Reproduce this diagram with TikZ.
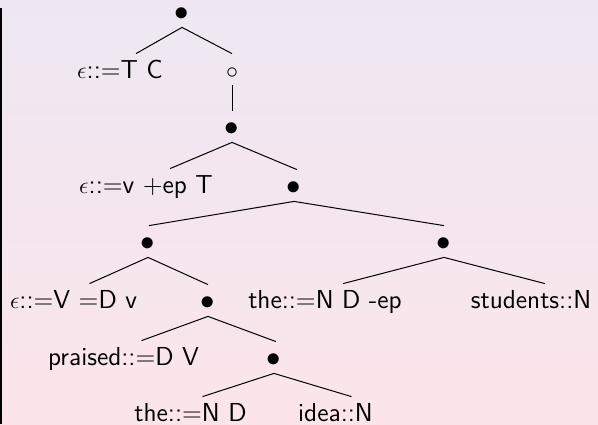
\documentclass[tikz,border=0pt]{standalone}
\definecolor{slidetop}{RGB}{238,231,243}
\definecolor{slidebottom}{RGB}{251,229,233}

\begin{document}
\begin{tikzpicture}[x=0.5pt, y=-0.5pt,
  every node/.style={font=\sffamily\fontsize{13}{15}\selectfont},
  lf/.style={anchor=base, inner sep=0pt, text height=12pt, text depth=0pt},
  dot/.style={lf, text depth=3.5pt},
  big/.style={font=\fontsize{15}{17}\selectfont},
  br/.style={line width=0.5pt}]

%% slide background and left rule
\fill[top color=slidetop, bottom color=slidebottom] (0,0) rectangle (598,424);
\fill[black] (0,8) rectangle (2,424);
\useasboundingbox (0,0) rectangle (598,424);

%% derivation tree, one row per level
\node[dot, big, text height=5pt] (root) at (182,20) {$\bullet$};
\node[lf]       (tc)      at (120,78)    {$\epsilon$::=T C};
\node[dot]      (mv)      at (232,78)    {$\circ$};
\node[dot, big] (t)       at (232,135)   {$\bullet$};
\node[lf]       (tlex)    at (146,193)   {$\epsilon$::=v +ep T};
\node[dot, big] (tbar)    at (294,194)   {$\bullet$};
\node[dot, big] (vp)      at (148,250)   {$\bullet$};
\node[dot, big] (dp)      at (444,250)   {$\bullet$};
\node[lf]       (vlex)    at (73.5,308)  {$\epsilon$::=V =D v};
\node[dot, big] (vbar)    at (208,309)   {$\bullet$};
\node[lf]       (subjd)   at (325,308)   {the::=N D -ep};
\node[lf]       (subjn)   at (531,308)   {students::N};
\node[lf]       (praised) at (123.5,365) {praised::=D V};
\node[dot, big] (obj)     at (274,366)   {$\bullet$};
\node[lf]       (objd)    at (190.5,421) {the::=N D};
\node[lf]       (objn)    at (335.5,421) {idea::N};

%% branches: parent/child/shift of the foot
\foreach \p/\c/\d in {root/tc/16, root/mv/0, mv/t/0, t/tlex/24, t/tbar/3,
    tbar/vp/1, tbar/dp/0, vp/vlex/16, vp/vbar/0, dp/subjd/18, dp/subjn/14,
    vbar/praised/18, vbar/obj/2, obj/objd/12, obj/objn/16}{
  \draw[br] (\p.south) -- ([xshift=\d*0.5pt]\c.north);
}
\end{tikzpicture}
\end{document}
